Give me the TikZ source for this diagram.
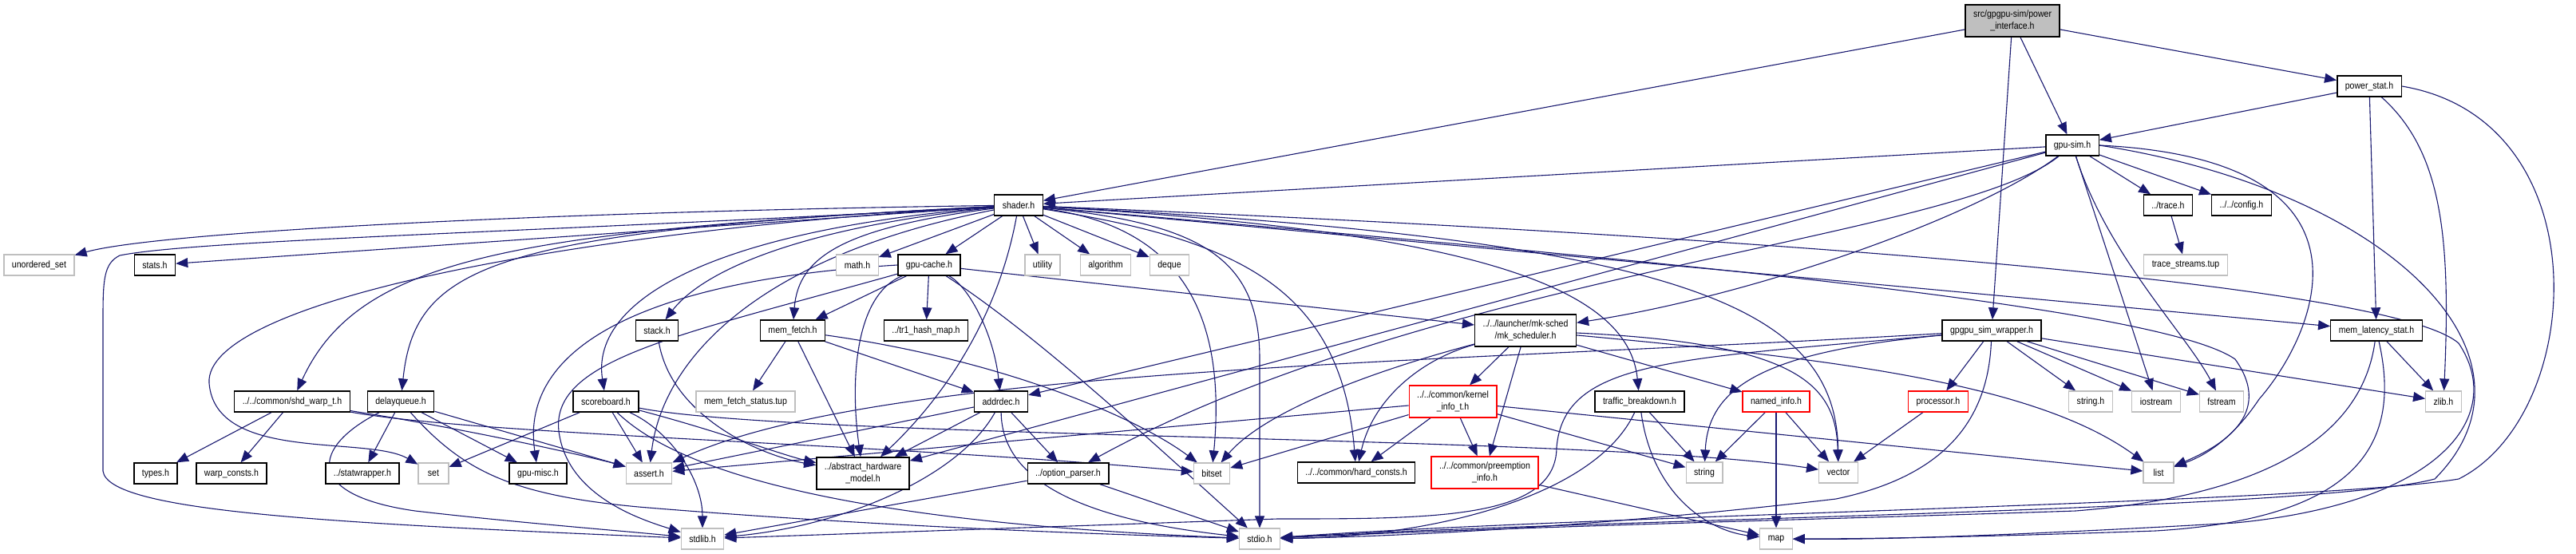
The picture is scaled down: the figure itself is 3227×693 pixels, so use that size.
\documentclass[tikz,border=0pt]{standalone}
\usepackage{fontspec}
\setmainfont{Liberation Sans}[FakeStretch=0.88]
\usetikzlibrary{arrows.meta,backgrounds}
\definecolor{edgecolor}{RGB}{25,25,112}
\definecolor{syscolor}{RGB}{191,191,191}
\definecolor{rootcolor}{RGB}{191,191,191}
\definecolor{misscolor}{RGB}{255,0,0}
\newcommand{\dxfont}{\fontsize{6}{7.5}\selectfont}
\tikzset{
filebox/.style={
  draw=black,
  line width=0.7pt,
  fill=white,
  font=\dxfont,
  align=center,
  inner xsep=5pt,
  inner ysep=2pt,
  minimum height=13pt,
  minimum width=19pt
},
sysbox/.style={
  filebox,
  draw=syscolor,
  line width=0.6pt
},
missbox/.style={
  filebox,
  draw=misscolor,
  line width=0.6pt
},
rootbox/.style={
  filebox,
  fill=rootcolor
},
tallbox/.style={
  minimum height=20pt
},
dep/.style={
  draw=edgecolor,
  line width=0.55pt,
  -{Triangle[length=7.5pt,width=6pt]}
}
}

\begin{document}
\begin{tikzpicture}[x=0.5pt, y=-0.5pt]
      \useasboundingbox (0,0) rectangle (3227,693);
      % Top files
      \node[rootbox, tallbox] (pi) at (2521,26) {src/gpgpu-sim/power\\\_interface.h};
      \node[filebox] (powerstat) at (2968,108) {power\_stat.h};
      \node[filebox] (gpusim) at (2596,182) {gpu-sim.h};
      \node[filebox] (shader) at (1276,257) {shader.h};
      \node[filebox] (trace) at (2716,257) {../trace.h};
      \node[filebox] (config) at (2808,257) {../../config.h};
      % Row below shader
      \node[sysbox] (unorderedset) at (49,332) {unordered\_set};
      \node[filebox] (stats) at (194,332) {stats.h};
      \node[sysbox] (mathh) at (1074,332) {math.h};
      \node[filebox] (gpucache) at (1164,332) {gpu-cache.h};
      \node[sysbox] (utility) at (1306,332) {utility};
      \node[sysbox] (algorithm) at (1385,332) {algorithm};
      \node[sysbox] (deque) at (1465,332) {deque};
      \node[sysbox] (tracestreams) at (2738,332) {trace\_streams.tup};
      % Middle row
      \node[filebox] (stack) at (823,414) {stack.h};
      \node[filebox] (memfetch) at (993,414) {mem\_fetch.h};
      \node[filebox] (tronehash) at (1160,414) {../tr1\_hash\_map.h};
      \node[filebox, tallbox] (mksched) at (1911,414) {../../launcher/mk-sched\\/mk\_scheduler.h};
      \node[filebox] (wrapper) at (2495,414) {gpgpu\_sim\_wrapper.h};
      \node[filebox] (memlat) at (2977,414) {mem\_latency\_stat.h};
      % Lower row
      \node[filebox] (shdwarp) at (366,503) {../../common/shd\_warp\_t.h};
      \node[filebox] (delayqueue) at (502,503) {delayqueue.h};
      \node[filebox] (scoreboard) at (759,503) {scoreboard.h};
      \node[sysbox] (memfetchstatus) at (934,503) {mem\_fetch\_status.tup};
      \node[filebox] (addrdec) at (1254,503) {addrdec.h};
      \node[missbox, tallbox] (kernelinfo) at (1820,503) {../../common/kernel\\\_info\_t.h};
      \node[filebox] (traffic) at (2054,503) {traffic\_breakdown.h};
      \node[missbox] (namedinfo) at (2225,503) {named\_info.h};
      \node[missbox] (processor) at (2428,503) {processor.h};
      \node[sysbox] (stringh) at (2619,503) {string.h};
      \node[sysbox] (iostream) at (2701,503) {iostream};
      \node[sysbox] (fstream) at (2783,503) {fstream};
      \node[sysbox] (zlib) at (3061,503) {zlib.h};
      % Leaf row
      \node[filebox] (types) at (195,593) {types.h};
      \node[filebox] (warpconsts) at (290,593) {warp\_consts.h};
      \node[filebox] (statwrapper) at (454,593) {../statwrapper.h};
      \node[sysbox] (set) at (543,593) {set};
      \node[filebox] (gpumisc) at (674,593) {gpu-misc.h};
      \node[sysbox] (assert) at (813,593) {assert.h};
      \node[filebox, tallbox] (abstracthw) at (1081,593) {../abstract\_hardware\\\_model.h};
      \node[filebox] (optionparser) at (1338,593) {../option\_parser.h};
      \node[sysbox] (bitset) at (1518,593) {bitset};
      \node[filebox] (hardconsts) at (1699,592) {../../common/hard\_consts.h};
      \node[missbox, tallbox] (preemption) at (1860,592) {../../common/preemption\\\_info.h};
      \node[sysbox] (string) at (2135,592) {string};
      \node[sysbox] (vector) at (2303,592) {vector};
      \node[sysbox] (list) at (2704,592) {list};
      % Bottom row
      \node[sysbox] (stdlib) at (880,675) {stdlib.h};
      \node[sysbox] (stdio) at (1578,675) {stdio.h};
      \node[sysbox] (map) at (2225,675) {map};
      \begin{scope}[on background layer]
      \fill[white] (0,0) rectangle (3227,693);
      % power_interface.h
      \draw[dep] (pi) -- (shader);
      \draw[dep] (pi) -- (gpusim);
      \draw[dep] (pi) -- (wrapper);
      \draw[dep] (pi) -- (powerstat);
      % power_stat.h
      \draw[dep] (powerstat) -- (gpusim);
      \draw[dep] (powerstat) -- (memlat);
      \draw[dep] (powerstat) .. controls (3060,190) and (3070,300) .. (zlib);
      \draw[dep] (powerstat.east) .. controls (3260,150) and (3240,520) .. (3080,600) .. controls (2900,630) and (2000,645) .. (stdio);
      % gpu-sim.h
      \draw[dep] (gpusim) -- (shader);
      \draw[dep] (gpusim) -- (trace);
      \draw[dep] (gpusim) -- (config);
      \draw[dep] (gpusim) -- (iostream);
      \draw[dep] (gpusim) .. controls (2640,320) and (2740,420) .. (fstream);
      \draw[dep] (gpusim.east) .. controls (3000,200) and (2900,420) .. (2830,500) .. controls (2790,560) and (2750,575) .. (list);
      \draw[dep] (gpusim.east) .. controls (3000,240) and (3200,450) .. (3050,600) .. controls (2900,640) and (2000,650) .. (stdio);
      \draw[dep] (gpusim) -- (addrdec);
      \draw[dep] (gpusim) -- (abstracthw);
      \draw[dep] (gpusim) .. controls (2480,270) and (2200,370) .. (mksched);
      \draw[dep] (gpusim) .. controls (2450,300) and (1800,340) .. (optionparser);
      \draw[dep] (trace) -- (tracestreams);
      % gpgpu_sim_wrapper.h
      \draw[dep] (wrapper) -- (processor);
      \draw[dep] (wrapper) -- (stringh);
      \draw[dep] (wrapper) -- (iostream);
      \draw[dep] (wrapper) -- (fstream);
      \draw[dep] (wrapper) -- (zlib);
      \draw[dep] (wrapper) .. controls (2490,540) and (2420,600) .. (2300,625) .. controls (2000,660) and (1750,672) .. (stdio);
      \draw[dep] (wrapper) .. controls (2220,440) and (2140,480) .. (string);
      \draw[dep] (wrapper) .. controls (2100,450) and (1960,450) .. (1950,560) .. controls (1950,650) and (1800,650) .. (1600,650) -- (stdlib);
      \draw[dep] (wrapper) .. controls (1800,455) and (1100,460) .. (assert);
      % mem_latency_stat.h
      \draw[dep] (memlat) -- (zlib);
      \draw[dep] (memlat) .. controls (2960,540) and (2850,620) .. (2600,640) .. controls (2300,650) and (1900,660) .. (stdio);
      \draw[dep] (memlat) .. controls (3010,560) and (2950,650) .. (2700,665) .. controls (2500,672) and (2350,675) .. (map);
      % shader.h
      \draw[dep] (shader) .. controls (700,265) and (200,290) .. (unorderedset);
      \draw[dep] (shader) -- (stats);
      \draw[dep] (shader) .. controls (700,290) and (250,300) .. (150,320) .. controls (130,330) and (129,350) .. (129,400) -- (129,590) .. controls (135,640) and (400,655) .. (stdlib);
      \draw[dep] (shader) .. controls (700,290) and (255,380) .. (262,480) .. controls (270,580) and (460,545) .. (set);
      \draw[dep] (shader) .. controls (650,290) and (450,320) .. (shdwarp);
      \draw[dep] (shader) .. controls (620,290) and (520,330) .. (delayqueue);
      \draw[dep] (shader) .. controls (880,290) and (740,380) .. (scoreboard);
      \draw[dep] (shader) .. controls (1000,285) and (880,340) .. (stack);
      \draw[dep] (shader) .. controls (1060,285) and (1000,320) .. (memfetch);
      \draw[dep] (shader) .. controls (950,320) and (830,450) .. (assert);
      \draw[dep] (shader) -- (mathh);
      \draw[dep] (shader) -- (gpucache);
      \draw[dep] (shader) -- (utility);
      \draw[dep] (shader) -- (algorithm);
      \draw[dep] (shader) -- (deque);
      \draw[dep] (shader) .. controls (1250,400) and (1180,500) .. (abstracthw);
      \draw[dep] (shader) .. controls (1450,280) and (1540,360) .. (bitset);
      \draw[dep] (shader) .. controls (1500,280) and (1578,320) .. (1578,450) -- (stdio);
      \draw[dep] (shader) .. controls (1550,300) and (1680,360) .. (hardconsts);
      \draw[dep] (shader) .. controls (1850,290) and (2040,360) .. (traffic);
      \draw[dep] (shader) .. controls (2100,300) and (2300,380) .. (vector);
      \draw[dep] (shader) -- (memlat);
      \draw[dep] (shader) .. controls (2000,320) and (2700,380) .. (2800,450) .. controls (2850,520) and (2780,560) .. (list);
      \draw[dep] (shader) .. controls (2300,300) and (3000,360) .. (3080,430) .. controls (3140,520) and (3060,630) .. (2800,655) .. controls (2500,672) and (2350,676) .. (map);
      % gpu-cache.h
      \draw[dep] (gpucache.west) .. controls (820,350) and (650,430) .. (gpumisc);
      \draw[dep] (gpucache) .. controls (850,420) and (690,450) .. (700,540) .. controls (710,620) and (800,650) .. (stdlib);
      \draw[dep] (gpucache) -- (memfetch);
      \draw[dep] (gpucache) .. controls (1070,370) and (1065,480) .. (abstracthw);
      \draw[dep] (gpucache) -- (tronehash);
      \draw[dep] (gpucache) .. controls (1215,360) and (1245,420) .. (addrdec);
      \draw[dep] (gpucache) .. controls (1300,420) and (1450,560) .. (stdio);
      \draw[dep] (gpucache) -- (mksched);
      % mem_fetch.h and stack.h
      \draw[dep] (memfetch) -- (memfetchstatus);
      \draw[dep] (memfetch) -- (abstracthw);
      \draw[dep] (memfetch) -- (addrdec);
      \draw[dep] (memfetch) .. controls (1250,450) and (1420,520) .. (bitset);
      \draw[dep] (stack) .. controls (840,520) and (950,570) .. (abstracthw);
      % shd_warp_t.h, delayqueue.h, scoreboard.h
      \draw[dep] (shdwarp) -- (types);
      \draw[dep] (shdwarp) -- (warpconsts);
      \draw[dep] (shdwarp) .. controls (600,540) and (750,575) .. (assert);
      \draw[dep] (shdwarp) .. controls (600,545) and (1100,555) .. (bitset);
      \draw[dep] (delayqueue) -- (statwrapper);
      \draw[dep] (delayqueue) -- (gpumisc);
      \draw[dep] (delayqueue) -- (assert);
      \draw[dep] (delayqueue) .. controls (390,560) and (380,620) .. (520,640) .. controls (650,655) and (780,665) .. (stdlib);
      \draw[dep] (delayqueue) .. controls (580,590) and (640,620) .. (800,635) .. controls (1100,660) and (1400,670) .. (stdio);
      \draw[dep] (scoreboard) -- (set);
      \draw[dep] (scoreboard) -- (assert);
      \draw[dep] (scoreboard) .. controls (900,540) and (980,570) .. (abstracthw);
      \draw[dep] (scoreboard) .. controls (840,540) and (880,600) .. (stdlib);
      \draw[dep] (scoreboard) .. controls (880,620) and (1200,660) .. (stdio);
      \draw[dep] (scoreboard) .. controls (1000,550) and (2000,545) .. (vector);
      % addrdec.h and option_parser.h
      \draw[dep] (addrdec) -- (assert);
      \draw[dep] (addrdec) -- (abstracthw);
      \draw[dep] (addrdec) -- (optionparser);
      \draw[dep] (addrdec) .. controls (1200,600) and (1050,660) .. (stdlib);
      \draw[dep] (addrdec) .. controls (1255,600) and (1350,650) .. (stdio);
      \draw[dep] (optionparser) -- (stdlib);
      \draw[dep] (optionparser) -- (stdio);
      % mk_scheduler.h and kernel_info_t.h
      \draw[dep] (mksched) -- (kernelinfo);
      \draw[dep] (mksched) -- (preemption);
      \draw[dep] (mksched) .. controls (1780,450) and (1720,500) .. (hardconsts);
      \draw[dep] (mksched) -- (namedinfo);
      \draw[dep] (mksched) .. controls (2250,430) and (2300,480) .. (vector);
      \draw[dep] (mksched) .. controls (2300,450) and (2550,480) .. (list);
      \draw[dep] (mksched) .. controls (1700,470) and (1580,520) .. (bitset);
      \draw[dep] (kernelinfo) -- (assert);
      \draw[dep] (kernelinfo) -- (bitset);
      \draw[dep] (kernelinfo) -- (hardconsts);
      \draw[dep] (kernelinfo) -- (preemption);
      \draw[dep] (kernelinfo) -- (list);
      \draw[dep] (kernelinfo) -- (string);
      % remaining
      \draw[dep] (preemption) -- (map);
      \draw[dep] (traffic) -- (string);
      \draw[dep] (traffic) .. controls (2070,620) and (2140,665) .. (map);
      \draw[dep] (traffic) .. controls (2000,620) and (1800,672) .. (stdio);
      \draw[dep] (namedinfo) -- (string);
      \draw[dep] (namedinfo) -- (map);
      \draw[dep] (namedinfo) -- (vector);
      \draw[dep] (processor) -- (vector);
      \end{scope}
    \end{tikzpicture}
\end{document}
